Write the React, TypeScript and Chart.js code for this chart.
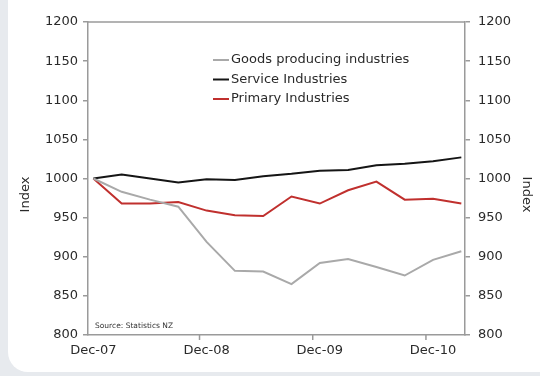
import React, { useEffect, useRef } from "react";
import { Chart, registerables } from "chart.js";

Chart.register(...registerables);

const quarters = [
  "Dec-07", "Mar-08", "Jun-08", "Sep-08", "Dec-08", "Mar-09", "Jun-09",
  "Sep-09", "Dec-09", "Mar-10", "Jun-10", "Sep-10", "Dec-10", "Mar-11",
];
const labelIndices = [0, 4, 8, 12];
const goods = [1000, 983, 973, 964, 919, 882, 881, 865, 892, 897, 887, 876, 896, 907];
const service = [1000, 1005, 1000, 995, 999, 998, 1003, 1006, 1010, 1011, 1017, 1019, 1022, 1027];
const primary = [1000, 968, 968, 970, 959, 953, 952, 977, 968, 985, 996, 973, 974, 968];
const yTicks = [800, 850, 900, 950, 1000, 1050, 1100, 1150, 1200];
const seriesNames = ["Goods producing industries", "Service Industries", "Primary Industries"];
const seriesColors = ["#a9a9a9", "#151515", "#c0302e"];
const sourceText = "Source: Statistics NZ";
const axisTitle = "Index";

const FONT = "'DejaVu Sans', sans-serif";
const AXIS_COLOR = "#9a9a9a";
const TEXT_COLOR = "#2a2a2a";

const decorPlugin = {
  id: "decor",
  afterDatasetsDraw(chart: any) {
    const { ctx, chartArea } = chart;
    const xs = chart.scales.x;
    ctx.save();
    // top border
    ctx.strokeStyle = AXIS_COLOR;
    ctx.lineWidth = 1.5;
    ctx.beginPath();
    ctx.moveTo(chartArea.left, chartArea.top);
    ctx.lineTo(chartArea.right, chartArea.top);
    ctx.stroke();
    // x tick marks (between categories, Excel-style)
    labelIndices.slice(1).forEach((i) => {
      const px = xs.getPixelForValue(i - 0.25);
      ctx.beginPath();
      ctx.moveTo(px, chartArea.bottom);
      ctx.lineTo(px, chartArea.bottom + 5);
      ctx.stroke();
    });
    // legend
    ctx.font = `13px ${FONT}`;
    ctx.textBaseline = "middle";
    ctx.textAlign = "left";
    const lx = chartArea.left + 125;
    const ly = chartArea.top + 38;
    chart.data.datasets.forEach((ds: any, i: number) => {
      const y = ly + i * 19.5;
      ctx.strokeStyle = ds.borderColor;
      ctx.lineWidth = 2;
      ctx.beginPath();
      ctx.moveTo(lx, y);
      ctx.lineTo(lx + 16, y);
      ctx.stroke();
      ctx.fillStyle = TEXT_COLOR;
      ctx.fillText(ds.label, lx + 18, y);
    });
    // source
    ctx.font = `7.5px ${FONT}`;
    ctx.fillStyle = "#333";
    ctx.fillText(sourceText, chartArea.left + 7, chartArea.bottom - 9);
    // axis titles
    ctx.font = `13px ${FONT}`;
    ctx.fillStyle = TEXT_COLOR;
    ctx.textAlign = "center";
    const cy = (chartArea.top + chartArea.bottom) / 2 + 16;
    ctx.save();
    ctx.translate(26, cy);
    ctx.rotate(-Math.PI / 2);
    ctx.fillText(axisTitle, 0, 0);
    ctx.restore();
    ctx.save();
    ctx.translate(526, cy);
    ctx.rotate(Math.PI / 2);
    ctx.fillText(axisTitle, 0, 0);
    ctx.restore();
    ctx.restore();
  },
};

export default function App() {
  const ref = useRef<HTMLCanvasElement | null>(null);
  useEffect(() => {
    if (!ref.current) return;
    const mk = (vals: number[]) => vals.map((v, i) => ({ x: i, y: v }));
    const yAxis = (position: "left" | "right", width: number, pad: number) => ({
      type: "linear" as const,
      position,
      min: 800,
      max: 1200,
      afterBuildTicks: (s: any) => {
        s.ticks = yTicks.map((v) => ({ value: v }));
      },
      afterFit: (s: any) => {
        s.width = width;
      },
      border: { color: AXIS_COLOR, width: 1.5 },
      grid: { drawOnChartArea: false, color: AXIS_COLOR, tickLength: 5, lineWidth: 1.5 },
      ticks: {
        color: TEXT_COLOR,
        padding: pad,
        font: { family: FONT, size: 13 },
        callback: (v: any) => String(v),
      },
    });
    const chart = new Chart(ref.current, {
      type: "line",
      data: {
        datasets: [
          { label: seriesNames[0], data: mk(goods), borderColor: seriesColors[0] },
          { label: seriesNames[1], data: mk(service), borderColor: seriesColors[1] },
          { label: seriesNames[2], data: mk(primary), borderColor: seriesColors[2] },
        ].map((d) => ({ ...d, borderWidth: 2, pointRadius: 0, tension: 0, fill: false })),
      },
      options: {
        animation: false,
        responsive: false,
        maintainAspectRatio: false,
        layout: { padding: { top: 22, left: 0, right: 0, bottom: 0 } },
        plugins: { legend: { display: false }, tooltip: { enabled: false } },
        scales: {
          x: {
            type: "linear",
            min: -0.19,
            max: 13.13,
            afterBuildTicks: (s: any) => {
              s.ticks = labelIndices.map((v) => ({ value: v }));
            },
            afterFit: (s: any) => {
              s.height = 41;
            },
            border: { color: AXIS_COLOR, width: 1.5 },
            grid: { display: false },
            ticks: {
              color: TEXT_COLOR,
              padding: 0,
              maxRotation: 0,
              font: { family: FONT, size: 13 },
              callback: (v: any) => quarters[Number(v)] ?? "",
            },
          },
          y: yAxis("left", 88, 5),
          y2: yAxis("right", 75, 8),
        },
      },
      plugins: [decorPlugin],
    });
    return () => chart.destroy();
  }, []);

  return (
    <div style={{ position: "fixed", left: 0, top: 0, width: 540, height: 376, background: "#e7eaee", overflow: "hidden" }}>
      <div
        style={{
          position: "absolute",
          left: 8,
          top: -20,
          right: -20,
          bottom: 4,
          background: "#ffffff",
          borderBottomLeftRadius: 20,
        }}
      />
      <canvas ref={ref} width={540} height={376} style={{ position: "absolute", left: 0, top: 0, width: 540, height: 376 }} />
    </div>
  );
}
